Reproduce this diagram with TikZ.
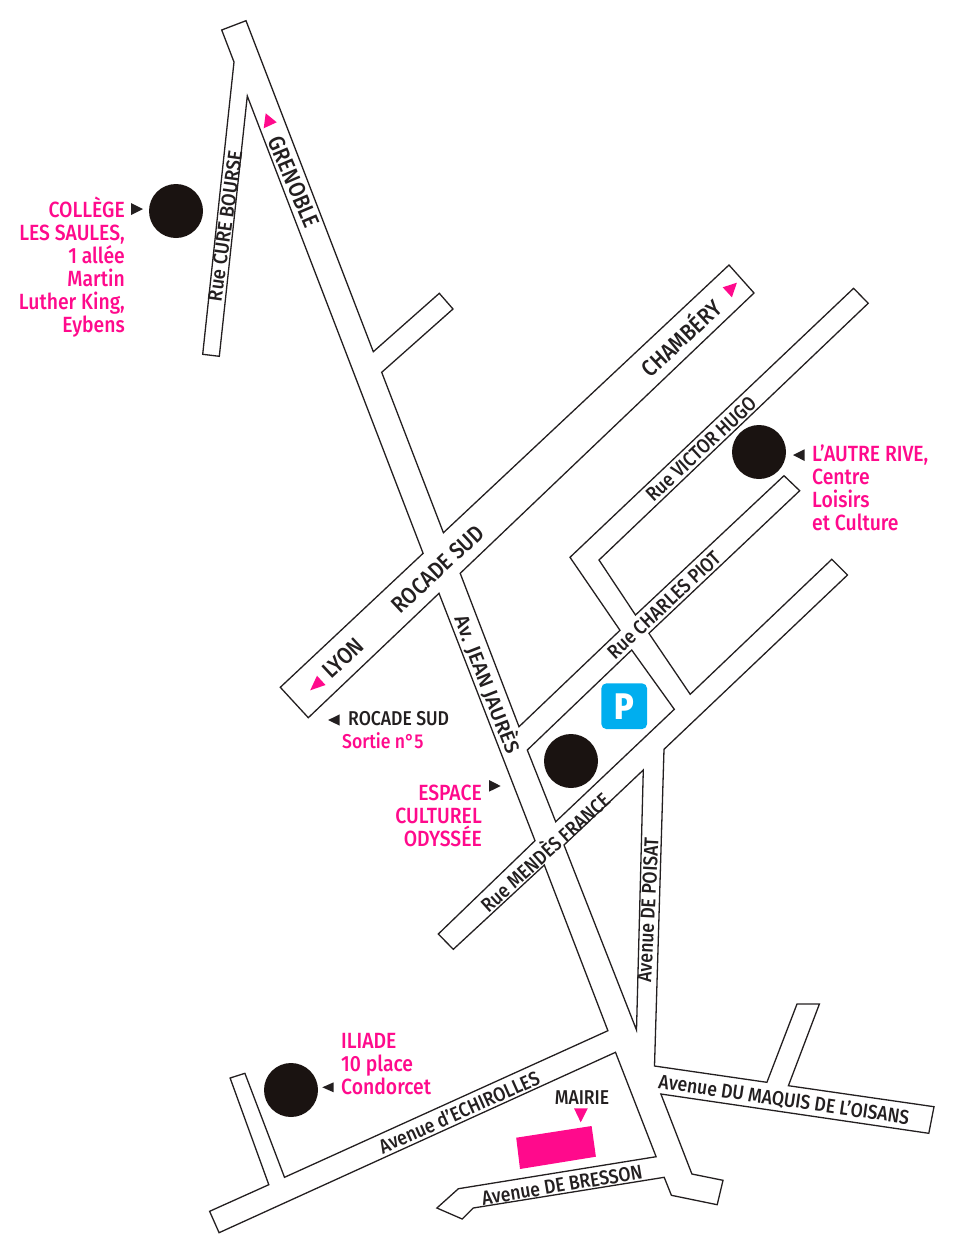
\documentclass[tikz,border=0pt]{standalone}
\usepackage{fontspec}
\setmainfont[FakeStretch=0.88, UprightFont=* Medium]{Fira Sans}
\definecolor{roadline}{HTML}{231F20}
\definecolor{sitedot}{HTML}{1A1311}
\definecolor{hotpink}{HTML}{FF0A8C}
\definecolor{parkblue}{HTML}{00AEEF}
\tikzset{
    road/.style={draw=roadline, line width=1.3pt, line join=miter},
    sitedot/.style={circle, fill=sitedot, minimum size=54pt, inner sep=0pt},
    roadname/.style={text=roadline, inner sep=0pt, font=\fontsize{20}{20}\selectfont},
    bigname/.style={text=roadline, inner sep=0pt, font=\fontsize{23}{23}\selectfont},
    sitename/.style={text=hotpink, inner sep=0pt, font=\fontsize{22}{23}\selectfont},
    pinktip/.style={fill=hotpink},
    blacktip/.style={fill=roadline}
}
\begin{document}
\begin{tikzpicture}[x=1pt, y=-1pt]
    \useasboundingbox (0,0) rectangle (961,1253);
    % street outline
    \draw[road] (202.7,354.3) -- (219.3,356.3) -- (247.3,96) -- (423.1,553.3) -- (280.3,687.3)
        -- (308.3,717.7) -- (439,593.3) -- (535,840.7) -- (438.3,934) -- (453.3,949.3)
        -- (544.3,865) -- (607.9,1030.7) -- (284.5,1177.3) -- (244.9,1073.3) -- (230.1,1078)
        -- (268.8,1184.7) -- (209.6,1211.3) -- (219.1,1232.7) -- (615.5,1052.3) -- (656.1,1156.7)
        -- (458.4,1188.7) -- (436.9,1208) -- (462.2,1219) -- (473.2,1208) -- (664.2,1177.3)
        -- (671.4,1195.3) -- (717.2,1204.7) -- (723,1180.3) -- (691.9,1174) -- (660.9,1094)
        -- (928.8,1133.3) -- (934,1106.7) -- (788.4,1085.7) -- (819.4,1004) -- (797,1004)
        -- (766.9,1082.3) -- (654.5,1066) -- (664,749.3) -- (847.5,575) -- (831.8,559.3)
        -- (690.2,694.3) -- (648.9,633.3) -- (799.7,490.7) -- (784,475.7) -- (635.5,615)
        -- (599,560) -- (868.2,303.3) -- (853.6,288.3) -- (570,557.3) -- (620,630.3)
        -- (519,726.7) -- (460.2,573.3) -- (754,293) -- (729,265) -- (443.4,532.7)
        -- (381.7,372.3) -- (453,309) -- (439.3,293.3) -- (373.3,351.7) -- (246,20.7)
        -- (221.7,30) -- (234,62) -- cycle;
    \draw[road] (631.7,650) -- (674.3,709.3) -- (555.7,821.7) -- (527.3,750) -- cycle;
    \draw[road] (564,845) -- (636.5,1030) -- (643.3,770) -- cycle;
    % sites
    \node[sitedot] (college) at (176,211) {};
    \node[sitedot] (autrerive) at (759,452) {};
    \node[sitedot] (odyssee) at (571,761) {};
    \node[sitedot] (iliade) at (291,1090) {};
    % parking and town hall
    \node[fill=parkblue, rounded corners=5pt, minimum size=45.7pt, inner sep=0pt,
        text=white, font=\fontsize{37}{37}\selectfont\bfseries] (parking) at (624.2,706.2) {P};
    \fill[hotpink] (516.2,1137.7) -- (591.6,1126) -- (595.9,1156.7) -- (520,1169) -- cycle;
    % little triangles
    \fill[pinktip] (265.7,113.3) -- (276.7,122.3) -- (263.7,128.3) -- cycle;
    \fill[pinktip] (722.7,287.3) -- (736.9,282.7) -- (731.9,297.3) -- cycle;
    \fill[pinktip] (317,675.7) -- (325.5,685) -- (310.2,690.3) -- cycle;
    \fill[pinktip] (574,1108.3) -- (587.8,1108.3) -- (580.7,1122.3) -- cycle;
    \fill[blacktip] (131,203) -- (143,209) -- (131,215) -- cycle;
    \fill[blacktip] (804.6,449.3) -- (804.6,461) -- (793,455) -- cycle;
    \fill[blacktip] (339.7,714.3) -- (339.7,725.7) -- (328.2,720) -- cycle;
    \fill[blacktip] (489,780) -- (489,791.7) -- (500.7,786) -- cycle;
    \fill[blacktip] (333.7,1082.3) -- (333.7,1092.3) -- (322.3,1087.3) -- cycle;
    % street names
    \node[roadname, rotate=82] (curebourse) at (225,226) {\addfontfeature{FakeStretch=0.92}Rue CURE BOURSE};
    \node[bigname, rotate=-67] (grenoble) at (294,182) {GRENOBLE};
    \node[bigname, rotate=43] (chambery) at (680,337) {CHAMBÉRY};
    \node[bigname, rotate=43] (rocade) at (438,569) {ROCADE SUD};
    \node[bigname, rotate=43] (lyon) at (343,658) {LYON};
    \node[roadname, rotate=43] (hugo) at (701,449) {Rue VICTOR HUGO};
    \node[roadname, rotate=43] (piot) at (664,605) {Rue CHARLES PIOT};
    \node[roadname, rotate=-68.8] (jaures) at (488,684) {\addfontfeature{FakeStretch=1.02}Av. JEAN JAURÈS};
    \node[roadname, rotate=42] (mendes) at (544,851) {Rue MENDÈS FRANCE};
    \node[roadname, rotate=87] (poisat) at (648,910) {Avenue DE POISAT};
    \node[roadname, rotate=24] (echirolles) at (459,1112) {Avenue d’ECHIROLLES};
    \node[roadname, rotate=-8.3] (maquis) at (784,1100) {Avenue DU MAQUIS DE L’OISANS};
    \node[roadname, rotate=9.5] (bresson) at (562,1185) {Avenue DE BRESSON};
    % labels
    \node[roadname] (mairie) at (582,1098) {MAIRIE};
    \node[roadname, anchor=west] (sortie) at (348,719) {ROCADE SUD};
    \node[sitename, anchor=west, font=\fontsize{20}{20}\selectfont] (sortienum) at (342,741) {Sortie n°5};
    \node[sitename, align=right, anchor=east] (collegename) at (125,267.5)
        {COLLÈGE\\LES SAULES,\\1 allée\\Martin\\Luther King,\\Eybens};
    \node[sitename, align=left, anchor=west] (autrename) at (812,488)
        {L’AUTRE RIVE,\\Centre\\Loisirs\\et Culture};
    \node[sitename, align=right, anchor=east] (odysseename) at (482,815.5)
        {ESPACE\\CULTUREL\\ODYSSÉE};
    \node[sitename, align=left, anchor=west] (iliadename) at (341,1064)
        {ILIADE\\10 place\\Condorcet};
\end{tikzpicture}
\end{document}
